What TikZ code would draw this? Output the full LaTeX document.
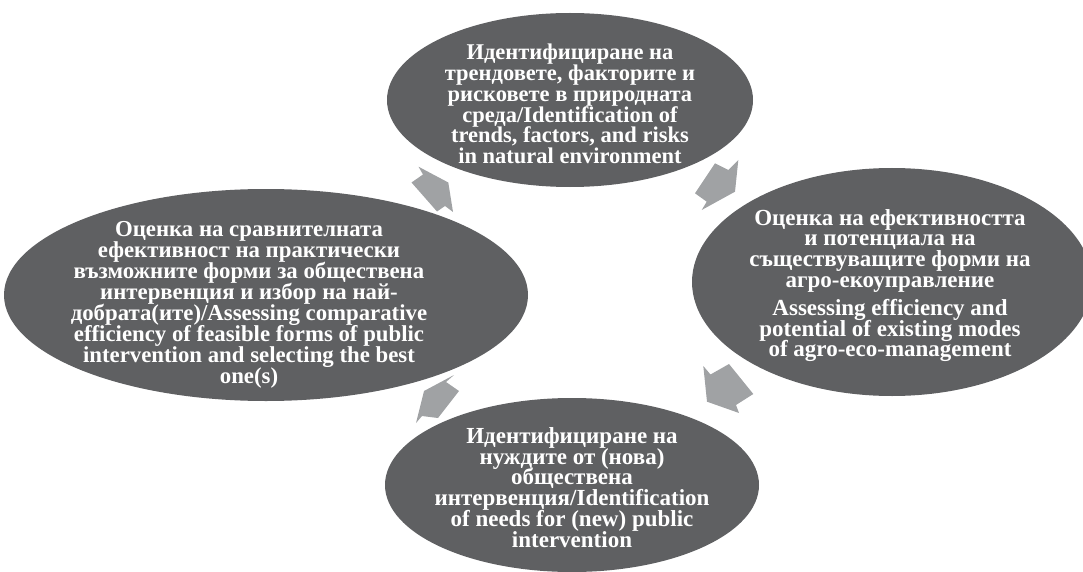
\documentclass[tikz,border=0pt]{standalone}
\usepackage{fontspec}
\setmainfont{Liberation Serif}
\usetikzlibrary{shapes.geometric}
\definecolor{ellgray}{RGB}{95,96,98}
\definecolor{arrgray}{RGB}{160,162,164}
\lineskiplimit=-100pt
\begin{document}
\begin{tikzpicture}[x=1pt,y=-1pt,
  ell/.style={ellipse, fill=ellgray, draw=none, inner sep=0pt},
  txt/.style={text=white, font=\bfseries\fontsize{22.5}{20.8}\selectfont, align=center, inner sep=0pt},
  txtmid/.style={txt, font=\bfseries\fontsize{23}{20.8}\selectfont},
  txttight/.style={txt, font=\bfseries\fontsize{22.8}{21.1}\selectfont},
  blockarrow/.style={fill=arrgray, draw=none}]
\useasboundingbox (0,0) rectangle (1083,572);
\clip (0,0) rectangle (1083,572);
% ellipses
\node[ell, minimum width=366pt, minimum height=174pt] (top) at (570,100) {};
\node[ell, minimum width=400pt, minimum height=228pt] (right) at (892,282) {};
\node[ell, minimum width=374pt, minimum height=174pt] (bottom) at (572,485) {};
\node[ell, minimum width=524pt, minimum height=212pt] (left) at (266,295) {};
% texts
\node[txt] (toptxt) at (570,104) {Идентифициране на\\трендовете, факторите и\\рисковете в природната\\среда/Identification of\\trends, factors, and risks\\in natural environment};
\node[txtmid] (righttxt) at (890,285.5) {Оценка на ефективността\\и потенциала на\\съществуващите форми на\\агро-екоуправление\\[7pt]Assessing efficiency and\\potential of existing modes\\of agro-eco-management};
\node[txtmid] (bottomtxt) at (572,487.5) {Идентифициране на\\нуждите от (нова)\\обществена\\интервенция/Identification\\of needs for (new) public\\intervention};
\node[txttight] (lefttxt) at (249,305) {Оценка на сравнителната\\ефективност на практически\\възможните форми за обществена\\интервенция и избор на най-\\добрата(ите)/Assessing comparative\\efficiency of feasible forms of public\\intervention and selecting the best\\one(s)};
% block arrows
\fill[blockarrow] (715,163.3) -- (728.3,170) -- (738.3,160) -- (735,191.7) -- (701.7,210) -- (706.7,201.7) -- (695,193.3) -- cycle;
\fill[blockarrow] (703.3,366) -- (710.5,374.5) -- (729,364) -- (753.3,394) -- (736,405) -- (739,413) -- (707,401.7) -- cycle;
\fill[blockarrow] (416,423) -- (424,391) -- (454,375) -- (446,382) -- (459,391) -- (438,418) -- (422,416) -- cycle;
\fill[blockarrow] (453,212) -- (445,206) -- (437,211.5) -- (411.5,182.5) -- (423,174.5) -- (418.5,166.7) -- (448.3,182.5) -- cycle;
\end{tikzpicture}
\end{document}
